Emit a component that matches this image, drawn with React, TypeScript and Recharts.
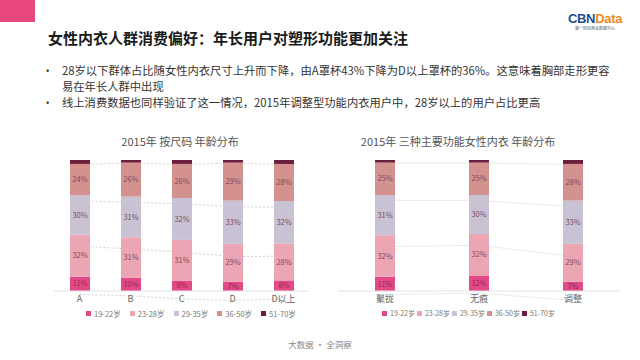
import React from 'react';
import { ComposedChart, BarChart, LineChart, Bar, Line, XAxis, YAxis, LabelList } from 'recharts';

const ageGroups = ['19-22岁', '23-28岁', '29-35岁', '36-50岁', '51-70岁'];
const ageColors = ['#e14a86', '#eca5b3', '#c9c2d4', '#d4928f', '#6c1f3d'];

// 按尺码
const sizeCats = ['A', 'B', 'C', 'D', 'D以上'];
const size19_22 = [11, 10, 8, 7, 8];
const size23_28 = [32, 31, 31, 29, 28];
const size29_35 = [30, 31, 32, 33, 32];
const size36_50 = [24, 26, 26, 29, 28];
const size51_70 = [3, 2, 3, 2, 3];

// 三种主要功能
const funcCats = ['聚拢', '无痕', '调整'];
const func19_22 = [11, 12, 7];
const func23_28 = [32, 32, 29];
const func29_35 = [31, 30, 33];
const func36_50 = [25, 25, 28];
const func51_70 = [2, 2, 3];

const FONT = '"Noto Sans CJK SC", "Noto Sans", sans-serif';

function buildRows(cats: string[], series: number[][]) {
  return cats.map((name, i) => {
    const row: Record<string, any> = { name };
    const total = series.reduce((s, arr) => s + arr[i], 0);
    let cum = 0;
    series.forEach((arr, k) => {
      row['s' + k] = arr[i];
      cum += arr[i];
      row['c' + k] = cum / total;
    });
    return row;
  });
}

const sizeRows = buildRows(sizeCats, [size19_22, size23_28, size29_35, size36_50, size51_70]);
const funcRows = buildRows(funcCats, [func19_22, func23_28, func29_35, func36_50, func51_70]);

// connector lines sit in a chart underneath the bars
function ConnectorLayer({ data, margin, dashed }: { data: any[]; margin: any; dashed: boolean }) {
  return (
    <LineChart width={320} height={330} data={data} margin={margin}>
      <XAxis dataKey="name" hide height={20} padding={{ left: 0, right: 0 }} scale="band" />
      <YAxis hide domain={[0, 1]} />
      {[0, 1, 2, 3].map((k) => (
        <Line
          key={'c' + k}
          dataKey={'c' + k}
          stroke={dashed ? '#c4c4c4' : '#e4e4e4'}
          strokeWidth={0.8}
          strokeDasharray={dashed ? '2 2' : undefined}
          dot={false}
          activeDot={false}
          type="linear"
          isAnimationActive={false}
        />
      ))}
    </LineChart>
  );
}

function StackChart({ data, margin }: { data: any[]; margin: any }) {
  return (
    <BarChart width={320} height={330} data={data} margin={margin} stackOffset="expand">
      <XAxis
        dataKey="name"
        tickLine={false}
        axisLine={{ stroke: '#e2e2e2' }}
        tick={{ fontSize: 9, fill: '#666', fontFamily: FONT }}
        tickSize={3}
        height={20}
        interval={0}
      />
      <YAxis hide domain={[0, 1]} />
      {ageGroups.map((g, k) => (
        <Bar key={g} dataKey={'s' + k} stackId="a" fill={ageColors[k]} barSize={20} isAnimationActive={false}>
          {k < 4 && (
            <LabelList
              dataKey={'s' + k}
              position="center"
              formatter={(v: any) => v + '%'}
              style={{ fontSize: 7.5, fill: k === 0 ? '#9c2855' : '#7d4d5d', fontFamily: FONT }}
            />
          )}
        </Bar>
      ))}
    </BarChart>
  );
}

function AgeLegend({ left, gap, size }: { left: number; gap: number; size: number }) {
  return (
    <div style={{ position: 'absolute', left, top: 308, display: 'flex', gap, fontSize: size, color: '#777', fontFamily: FONT }}>
      {ageGroups.map((g, k) => (
        <div key={g} style={{ display: 'flex', alignItems: 'center' }}>
          <span style={{ width: 5, height: 5, background: ageColors[k], marginRight: 3, display: 'inline-block' }} />
          {g}
        </div>
      ))}
    </div>
  );
}

const leftMargin = { top: 160, left: 54, right: 11, bottom: 19 };
const rightMargin = { top: 160, left: 18, right: 20, bottom: 19 };

export default function App() {
  return (
    <div style={{ position: 'absolute', left: 0, top: 0, width: 640, height: 360, background: '#fff', overflow: 'hidden', fontFamily: FONT }}>
      <div style={{ position: 'absolute', left: 0, top: 0, width: 35, height: 22, background: '#e8467f' }} />
      <div style={{ position: 'absolute', left: 48, top: 27, fontSize: 15, fontWeight: 700, color: '#1a1a1a', whiteSpace: 'nowrap' }}>
        女性内衣人群消费偏好：年长用户对塑形功能更加关注
      </div>
      <div style={{ position: 'absolute', left: 560, top: 12, width: 70, textAlign: 'center', lineHeight: 1 }}>
        <div style={{ fontSize: 13, fontWeight: 700, fontFamily: '"Liberation Sans", Arial, sans-serif', letterSpacing: -0.3 }}>
          <span style={{ color: '#1d4e91' }}>CBN</span>
          <span style={{ color: '#f08a1d' }}>Data</span>
        </div>
        <div style={{ fontSize: 4, color: '#555', marginTop: 1 }}>第一财经商业数据中心</div>
      </div>

      <div style={{ position: 'absolute', left: 42, top: 62, width: 580, fontSize: 11.3, color: '#333', lineHeight: '16px' }}>
        <div style={{ display: 'flex' }}>
          <span style={{ width: 20 }}>•</span>
          <span>
            28岁以下群体占比随女性内衣尺寸上升而下降，由A罩杯43%下降为D以上罩杯的36%。这意味着胸部走形更容
            <br />
            易在年长人群中出现
          </span>
        </div>
        <div style={{ display: 'flex' }}>
          <span style={{ width: 20 }}>•</span>
          <span>线上消费数据也同样验证了这一情况，2015年调整型功能内衣用户中，28岁以上的用户占比更高</span>
        </div>
      </div>

      <div style={{ position: 'absolute', left: 80, top: 133, width: 200, textAlign: 'center', fontSize: 11, color: '#555' }}>
        2015年 按尺码 年龄分布
      </div>
      <div style={{ position: 'absolute', left: 338, top: 133, width: 240, textAlign: 'center', fontSize: 11, color: '#555' }}>
        2015年 三种主要功能女性内衣 年龄分布
      </div>

      <div style={{ position: 'absolute', left: 0, top: 0 }}>
        <ConnectorLayer data={sizeRows} margin={leftMargin} dashed />
      </div>
      <div style={{ position: 'absolute', left: 0, top: 0 }}>
        <StackChart data={sizeRows} margin={leftMargin} />
      </div>
      <div style={{ position: 'absolute', left: 320, top: 0 }}>
        <ConnectorLayer data={funcRows} margin={rightMargin} dashed={false} />
      </div>
      <div style={{ position: 'absolute', left: 320, top: 0 }}>
        <StackChart data={funcRows} margin={rightMargin} />
      </div>

      <AgeLegend left={86} gap={9} size={7.5} />
      <AgeLegend left={382} gap={2} size={7} />

      <div style={{ position: 'absolute', left: 0, width: 640, top: 338, textAlign: 'center', fontSize: 8.5, color: '#888' }}>
        大数据 · 全洞察
      </div>
    </div>
  );
}
